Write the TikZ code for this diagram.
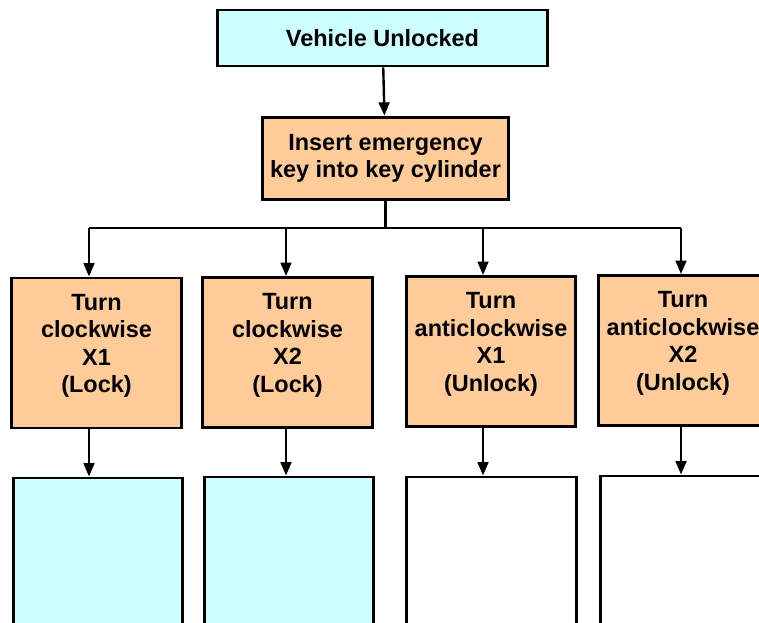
\documentclass[tikz,border=0pt]{standalone}
\usepackage{fontspec}
\setmainfont{Liberation Sans}
\usetikzlibrary{arrows.meta}
\definecolor{litecyan}{rgb}{0.8,1,1}
\definecolor{liteorange}{rgb}{1,0.8,0.6}

\begin{document}
\begin{tikzpicture}[x=0.75pt,y=-0.75pt,line join=miter,
	box/.style={draw,line width=2.2pt,inner sep=0pt,minimum width=127pt,minimum height=112.5pt},
	txt/.style={anchor=north,inner sep=0pt,align=center,font=\bfseries\fontsize{17.6}{20.6}\selectfont},
	link/.style={line width=1.8pt},
	arr/.style={link,-{Triangle[length=10pt,width=8pt]}}]
	\clip (0,0) rectangle (759,623);
	\useasboundingbox (0,0) rectangle (759,623);
	% top of the tree
	\node [box,fill=litecyan,minimum width=248pt,minimum height=42pt,font=\bfseries\fontsize{17.6}{20.6}\selectfont] (unlocked) at (382.5,38) {Vehicle Unlocked};
	\node [box,fill=liteorange,minimum width=185pt,minimum height=62pt,align=center,font=\bfseries\fontsize{17.6}{20.6}\selectfont] (insert) at (385.5,158.5) {Insert emergency\\key into key cylinder};
	\draw [arr] (unlocked) -- (insert);
	% branch points
	\coordinate (j1) at (89,228);
	\coordinate (j2) at (286,228);
	\coordinate (j3) at (483,228);
	\coordinate (j4) at (681,228);
	\draw [link] (insert.south) -- (insert.south |- j1);
	\draw [link] (j1) -- (j4);
	% turning the key
	\node [box,fill=liteorange] (cw1) at (96.5,353) {};
	\node [box,fill=liteorange] (cw2) at (287.5,352.5) {};
	\node [box,fill=liteorange] (acw1) at (491,351.5) {};
	\node [box,fill=liteorange] (acw2) at (683,350.5) {};
	\node [txt] (tcw1) at ([yshift=-13pt]cw1.north) {Turn\\clockwise\\X1\\(Lock)};
	\node [txt] (tcw2) at ([yshift=-13pt]cw2.north) {Turn\\clockwise\\X2\\(Lock)};
	\node [txt] (tacw1) at ([yshift=-13pt]acw1.north) {Turn\\anticlockwise\\X1\\(Unlock)};
	\node [txt] (tacw2) at ([yshift=-13pt]acw2.north) {Turn\\anticlockwise\\X2\\(Unlock)};
	% results
	\node [box,fill=litecyan] (res1) at (98,553) {};
	\node [box,fill=litecyan] (res2) at (289,552) {};
	\node [box,fill=white] (res3) at (491.5,552) {};
	\node [box,fill=white] (res4) at (685,551) {};
	\draw [arr] (j1) -- (j1 |- cw1.north);
	\draw [arr] (j2) -- (j2 |- cw2.north);
	\draw [arr] (j3) -- (j3 |- acw1.north);
	\draw [arr] (j4) -- (j4 |- acw2.north);
	\draw [arr] (cw1.south -| j1) -- (res1.north -| j1);
	\draw [arr] (cw2.south -| j2) -- (res2.north -| j2);
	\draw [arr] (acw1.south -| j3) -- (res3.north -| j3);
	\draw [arr] (acw2.south -| j4) -- (res4.north -| j4);
\end{tikzpicture}
\end{document}
